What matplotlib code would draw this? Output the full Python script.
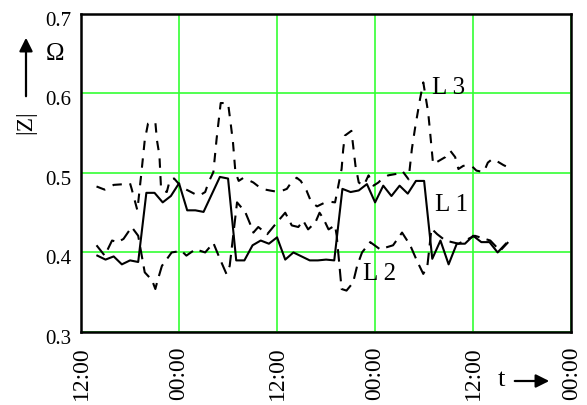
import matplotlib
matplotlib.use('Agg')
import matplotlib.pyplot as plt
from matplotlib.transforms import ScaledTranslation

plt.rcParams['font.family'] = ['Liberation Serif', 'DejaVu Serif']

# hours since the first 12:00 mark
hours_l1 = list(range(2, 53))
l1 = [0.396, 0.391, 0.395, 0.385, 0.390, 0.388, 0.475, 0.475, 0.463, 0.471,
      0.487, 0.453, 0.453, 0.451, 0.473, 0.495, 0.493, 0.390, 0.390, 0.409,
      0.415, 0.411, 0.419, 0.391, 0.400, 0.395, 0.390, 0.390, 0.391, 0.390,
      0.480, 0.476, 0.478, 0.486, 0.463, 0.484, 0.471, 0.484, 0.474, 0.490,
      0.490, 0.392, 0.415, 0.385, 0.411, 0.411, 0.421, 0.413, 0.413, 0.400,
      0.411]

hours_l2 = [1.9, 2.9, 3.8, 4.5, 5.2, 6.2, 7.0, 7.4, 7.8, 8.7, 9.1, 9.3, 9.9,
            11.1, 12.3, 12.9, 14.0, 15.2, 16.2, 17.0, 17.8, 18.2, 19.1, 20.1,
            20.7, 21.1, 21.7, 22.8, 24.0, 25.0, 25.8, 26.6, 27.2, 27.8, 28.7,
            29.2, 29.7, 30.3, 31.1, 31.3, 31.9, 32.5, 33.3, 33.8, 34.4, 35.4,
            36.6, 38.2, 39.3, 40.3, 41.1, 41.9, 42.4, 42.9, 43.6, 44.6, 46.2,
            48.2, 50.1, 51.3, 52.3]
l2 = [0.409, 0.396, 0.415, 0.413, 0.417, 0.432, 0.421, 0.398, 0.375, 0.365,
      0.354, 0.362, 0.383, 0.400, 0.402, 0.396, 0.404, 0.400, 0.412, 0.392,
      0.373, 0.383, 0.463, 0.451, 0.436, 0.425, 0.432, 0.423, 0.438, 0.450,
      0.434, 0.432, 0.440, 0.429, 0.438, 0.450, 0.442, 0.429, 0.434, 0.421,
      0.354, 0.352, 0.362, 0.383, 0.400, 0.413, 0.404, 0.409, 0.425, 0.409,
      0.390, 0.373, 0.383, 0.430, 0.423, 0.415, 0.411, 0.421, 0.415, 0.402,
      0.413]

hours_l3 = [1.9, 2.9, 4.0, 5.4, 6.0, 6.2, 6.9, 7.4, 7.8, 8.2, 9.1, 9.3, 9.6,
            9.8, 10.5, 10.9, 11.4, 12.0, 12.7, 13.1, 14.4, 15.2, 15.6, 16.2,
            16.6, 17.1, 18.0, 18.3, 18.6, 18.9, 19.3, 19.9, 21.1, 22.1, 23.1,
            24.2, 25.2, 25.6, 26.4, 26.9, 27.6, 28.2, 28.9, 29.9, 30.3, 31.1,
            31.5, 31.9, 32.1, 32.3, 33.1, 33.6, 34.0, 34.6, 35.2, 35.8, 36.4,
            36.8, 37.6, 38.7, 39.3, 40.1, 40.5, 40.9, 41.5, 41.9, 42.5, 42.7,
            43.1, 44.6, 45.2, 45.8, 46.2, 46.8, 47.8, 48.4, 49.3, 49.8, 50.4,
            51.7, 52.3]
l3 = [0.483, 0.479, 0.485, 0.486, 0.487, 0.480, 0.453, 0.501, 0.541, 0.562,
      0.564, 0.541, 0.522, 0.480, 0.476, 0.492, 0.493, 0.486, 0.480, 0.478,
      0.471, 0.476, 0.488, 0.501, 0.543, 0.588, 0.588, 0.564, 0.539, 0.501,
      0.490, 0.494, 0.488, 0.480, 0.478, 0.476, 0.480, 0.486, 0.494, 0.490,
      0.478, 0.463, 0.458, 0.463, 0.464, 0.463, 0.484, 0.505, 0.530, 0.547,
      0.553, 0.509, 0.488, 0.484, 0.497, 0.484, 0.488, 0.492, 0.497, 0.499,
      0.503, 0.492, 0.530, 0.557, 0.593, 0.614, 0.576, 0.555, 0.511, 0.520,
      0.528, 0.520, 0.505, 0.509, 0.509, 0.503, 0.501, 0.513, 0.518, 0.510,
      0.507]

x_ticks = [0, 12, 24, 36, 48, 60]
x_tick_labels = ['12:00', '00:00', '12:00', '00:00', '12:00', '00:00']
y_ticks = [0.3, 0.4, 0.5, 0.6, 0.7]

fig = plt.figure(figsize=(5.87, 4.06), dpi=100)
ax = fig.add_axes([0.138, 0.180, 0.835, 0.783])

ax.plot(hours_l1, l1, color='black', lw=1.5)
ax.plot(hours_l2, l2, color='black', lw=1.5, dashes=(6, 3.5))
ax.plot(hours_l3, l3, color='black', lw=1.5, dashes=(4.5, 4))

ax.set_xlim(0, 60)
ax.set_ylim(0.3, 0.7)
ax.set_xticks(x_ticks)
ax.set_xticklabels(x_tick_labels, rotation=90, fontsize=17)
ax.set_yticks(y_ticks)
ax.set_yticklabels([f'{v:.1f}' for v in y_ticks], fontsize=15)
ax.tick_params(length=0)
ax.tick_params(axis='x', pad=10)
ax.tick_params(axis='y', pad=7)
for lab in ax.get_yticklabels():
    lab.set_transform(lab.get_transform() + ScaledTranslation(0, -4 / 100, fig.dpi_scale_trans))

ax.grid(True, color='#33ff33', lw=1.2)
for sp in ax.spines.values():
    sp.set_linewidth(1.8)

# series labels
ax.text(43.0, 0.608, 'L 3', fontsize=18, va='center')
ax.text(43.3, 0.461, 'L 1', fontsize=18, va='center')
ax.text(34.5, 0.374, 'L 2', fontsize=18, va='center')

# axis captions with arrows
fig.text(26, 284, '|Z|', transform=None, rotation=90, fontsize=17, ha='center', va='center')
fig.text(55, 352, 'Ω', transform=None, fontsize=18, ha='center', va='center')
ax.annotate('', xy=(26, 370), xytext=(26, 306), xycoords='figure pixels',
            textcoords='figure pixels',
            arrowprops=dict(arrowstyle='-|>', color='black', lw=1.6, mutation_scale=20))
fig.text(501, 26, 't', transform=None, fontsize=19, ha='center', va='center')
ax.annotate('', xy=(552, 24), xytext=(512, 24), xycoords='figure pixels',
            textcoords='figure pixels',
            arrowprops=dict(arrowstyle='-|>', color='black', lw=1.6, mutation_scale=20))

fig.savefig('out.png', dpi=100)
